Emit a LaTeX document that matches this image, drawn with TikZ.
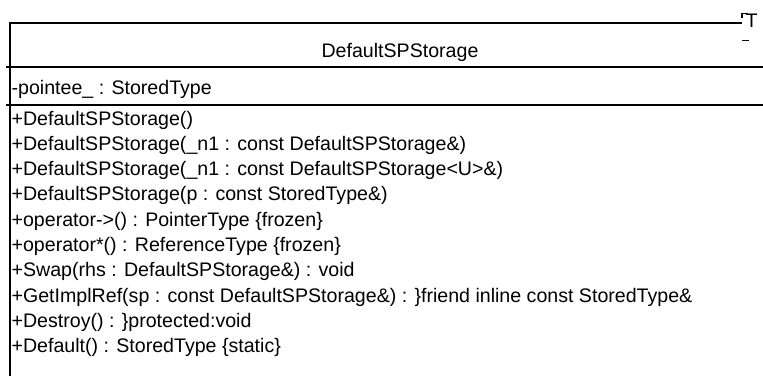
\documentclass[tikz,border=0pt]{standalone}
\usepackage{fontspec}
\setmainfont{Liberation Sans}

\begin{document}
\begin{tikzpicture}[x=1pt, y=-1pt, line width=1.3pt,
    umltext/.style={inner sep=0pt, font=\fontsize{19.6}{25.3}\selectfont}]
  \clip (0,0) rectangle (763,375);
  % class box and compartments
  \draw (10,23) rectangle (791,395);
  \draw (6,67) -- (791,67);
  \draw (6,105) -- (791,105);
  \node[umltext, anchor=base] (spstore-name) at (400,57) {DefaultSPStorage};
  \node[umltext, anchor=base west] (spstore-attr) at (11,94) {-pointee\_ : StoredType};
  % base of a multi-line node is its last line
  \node[umltext, anchor=base west, align=left] (spstore-ops) at (11,352.7) {%
    +DefaultSPStorage()\\
    +DefaultSPStorage(\_n1 : const DefaultSPStorage\&)\\
    +DefaultSPStorage(\_n1 : const DefaultSPStorage<U>\&)\\
    +DefaultSPStorage(p : const StoredType\&)\\
    +operator->() : PointerType \{frozen\}\\
    +operator*() : ReferenceType \{frozen\}\\
    +Swap(rhs : DefaultSPStorage\&) : void\\
    +GetImplRef(sp : const DefaultSPStorage\&) : \}friend inline const StoredType\&\\
    +Destroy() : \}protected:void\\
    +Default() : StoredType \{static\}};
  % template parameter, dashed border
  \node[umltext, fill=white, outer sep=0pt, anchor=west, text width=30pt, align=left,
        text height=13.7pt, text depth=13.7pt] (spstore-tmpl) at (742,27) {\hspace*{3.7pt}T};
  \draw (spstore-tmpl.north west) ++(0,5) -- (spstore-tmpl.north west) -- ++(6,0);
  \draw (spstore-tmpl.south west) -- ++(7,0);
\end{tikzpicture}
\end{document}
